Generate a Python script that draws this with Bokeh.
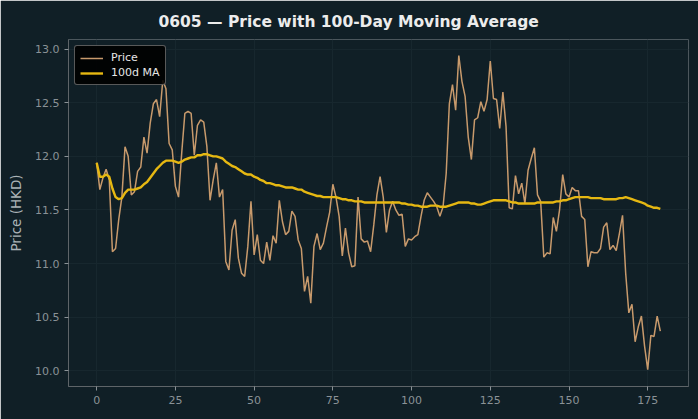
from bokeh.plotting import figure
from bokeh.models import Range1d, FixedTicker, PrintfTickFormatter, Legend, LegendItem, ColumnDataSource
from bokeh.embed import file_html
from bokeh.resources import INLINE

title_text = "0605 \u2014 Price with 100-Day Moving Average"
y_label = "Price (HKD)"
price_label = "Price"
ma_label = "100d MA"

price = [
    11.94, 11.69, 11.80, 11.88, 11.78, 11.11, 11.14, 11.41, 11.62, 12.09,
    12.00, 11.64, 11.67, 11.86, 11.90, 12.18, 12.03, 12.31, 12.49, 12.53,
    12.37, 12.71, 12.63, 12.12, 12.06, 11.72, 11.62, 12.03, 12.40, 12.42,
    12.40, 12.01, 12.29, 12.34, 12.32, 12.09, 11.59, 11.78, 11.94, 11.62,
    11.69, 11.02, 10.94, 11.31, 11.41, 11.05, 10.91, 10.88, 11.16, 11.58,
    11.08, 11.27, 11.03, 11.00, 11.20, 11.03, 11.26, 11.19, 11.59, 11.39,
    11.27, 11.30, 11.49, 11.44, 11.22, 11.14, 10.74, 10.88, 10.63, 11.16,
    11.28, 11.13, 11.19, 11.34, 11.48, 11.74, 11.62, 11.44, 11.07, 11.33,
    11.10, 10.97, 10.98, 11.62, 11.23, 11.20, 11.21, 11.11, 11.36, 11.64,
    11.81, 11.62, 11.29, 11.50, 11.58, 11.50, 11.45, 11.46, 11.16, 11.23,
    11.22, 11.25, 11.27, 11.44, 11.59, 11.66, 11.62, 11.58, 11.53, 11.44,
    11.53, 11.84, 12.49, 12.67, 12.43, 12.94, 12.70, 12.56, 12.18, 11.97,
    12.34, 12.36, 12.51, 12.42, 12.53, 12.89, 12.54, 12.53, 12.26, 12.60,
    12.28, 11.52, 11.51, 11.82, 11.65, 11.75, 11.56, 11.87, 11.98, 12.08,
    11.64, 11.58, 11.06, 11.10, 11.09, 11.43, 11.30, 11.50, 11.83, 11.65,
    11.62, 11.71, 11.68, 11.68, 11.44, 11.41, 10.97, 11.11, 11.10, 11.10,
    11.14, 11.34, 11.38, 11.13, 11.17, 11.12, 11.28, 11.45, 10.91, 10.54,
    10.62, 10.27, 10.41, 10.51, 10.23, 10.01, 10.33, 10.32, 10.51, 10.37,
]

ma100 = [
    11.94, 11.81, 11.81, 11.83, 11.81, 11.70, 11.62, 11.60, 11.61, 11.66,
    11.69, 11.69, 11.69, 11.70, 11.71, 11.74, 11.76, 11.80, 11.84, 11.88,
    11.91, 11.94, 11.96, 11.96, 11.96, 11.95, 11.94, 11.95, 11.97, 11.98,
    11.99, 11.99, 12.01, 12.01, 12.02, 12.02, 12.01, 12.00, 12.00, 11.99,
    11.98, 11.95, 11.93, 11.91, 11.90, 11.88, 11.86, 11.84, 11.83, 11.83,
    11.81, 11.80, 11.78, 11.77, 11.75, 11.75, 11.74, 11.73, 11.73, 11.72,
    11.71, 11.71, 11.71, 11.70, 11.69, 11.69, 11.67, 11.66, 11.65, 11.64,
    11.63, 11.63, 11.62, 11.62, 11.62, 11.62, 11.62, 11.61, 11.60, 11.60,
    11.59, 11.59, 11.58, 11.58, 11.58, 11.57, 11.57, 11.57, 11.57, 11.57,
    11.57, 11.57, 11.57, 11.57, 11.57, 11.57, 11.57, 11.56, 11.56, 11.55,
    11.55, 11.54, 11.54, 11.53, 11.53, 11.53, 11.54, 11.54, 11.54, 11.53,
    11.53, 11.53, 11.54, 11.55, 11.56, 11.57, 11.57, 11.57, 11.57, 11.56,
    11.56, 11.55, 11.55, 11.56, 11.57, 11.58, 11.59, 11.59, 11.59, 11.59,
    11.59, 11.58, 11.57, 11.57, 11.56, 11.56, 11.56, 11.56, 11.56, 11.56,
    11.57, 11.57, 11.57, 11.57, 11.57, 11.57, 11.58, 11.58, 11.59, 11.59,
    11.60, 11.61, 11.62, 11.62, 11.62, 11.62, 11.62, 11.61, 11.61, 11.61,
    11.61, 11.60, 11.60, 11.60, 11.60, 11.60, 11.61, 11.61, 11.62, 11.61,
    11.60, 11.59, 11.58, 11.57, 11.56, 11.54, 11.53, 11.52, 11.52, 11.51,
]

days = list(range(len(price)))
x_ticks = [0, 25, 50, 75, 100, 125, 150, 175]
y_ticks = [10.0, 10.5, 11.0, 11.5, 12.0, 12.5, 13.0]

BG = "#101f26"
FONT = "DejaVu Sans"

src = ColumnDataSource(dict(day=days, price=price, ma=ma100))

p = figure(width=698, height=419, output_backend="svg", toolbar_location=None,
           x_range=Range1d(-8.95, 187.95), y_range=Range1d(9.853, 13.09),
           min_border_left=68, min_border_right=10, min_border_top=39, min_border_bottom=33)
p.background_fill_color = BG
p.border_fill_color = BG
p.outline_line_color = None

p.title.text = title_text
p.title.align = "left"
p.title.offset = 90
p.title.standoff = 18
p.title.text_font = FONT
p.title.text_font_size = "15.5px"
p.title.text_font_style = "bold"
p.title.text_color = "#ececec"

r_price = p.line("day", "price", source=src, line_color="#c89a6c", line_width=1.5)
r_ma = p.line("day", "ma", source=src, line_color="#e6b812", line_width=2.4)

for ax in (p.xaxis[0], p.yaxis[0]):
    ax.axis_line_color = "#5e6468"
    ax.major_tick_line_color = "#8a9296"
    ax.major_tick_out = 4
    ax.major_tick_in = 0
    ax.minor_tick_line_color = None
    ax.major_label_text_color = "#8a9296"
    ax.major_label_text_font = FONT
    ax.major_label_text_font_size = "11px"
    ax.axis_label_text_font = FONT

p.xaxis.ticker = FixedTicker(ticks=x_ticks)
p.yaxis.ticker = FixedTicker(ticks=y_ticks)
p.yaxis.formatter = PrintfTickFormatter(format="%.1f")
p.yaxis.axis_label = y_label
p.yaxis.axis_label_text_font_size = "13.5px"
p.yaxis.axis_label_text_font_style = "normal"
p.yaxis.axis_label_text_color = "#aab2b6"
p.yaxis.axis_label_standoff = 8

p.xgrid.grid_line_color = "#17272e"
p.ygrid.grid_line_color = "#17272e"
p.xgrid.grid_line_width = 1
p.ygrid.grid_line_width = 1

legend = Legend(items=[LegendItem(label=price_label, renderers=[r_price]),
                       LegendItem(label=ma_label, renderers=[r_ma])],
                location="top_left")
legend.background_fill_color = "#000000"
legend.background_fill_alpha = 0.9
legend.border_line_color = "#b0b0b0"
legend.border_line_width = 1
legend.border_radius = 3
legend.label_text_color = "#e6e6e6"
legend.label_text_font = FONT
legend.label_text_font_size = "11px"
legend.glyph_width = 23
legend.glyph_height = 12
legend.label_height = 12
legend.label_standoff = 8
legend.spacing = 2
legend.padding = 5
legend.margin = 6
p.add_layout(legend)

open("out.html", "w").write(file_html(p, INLINE))
